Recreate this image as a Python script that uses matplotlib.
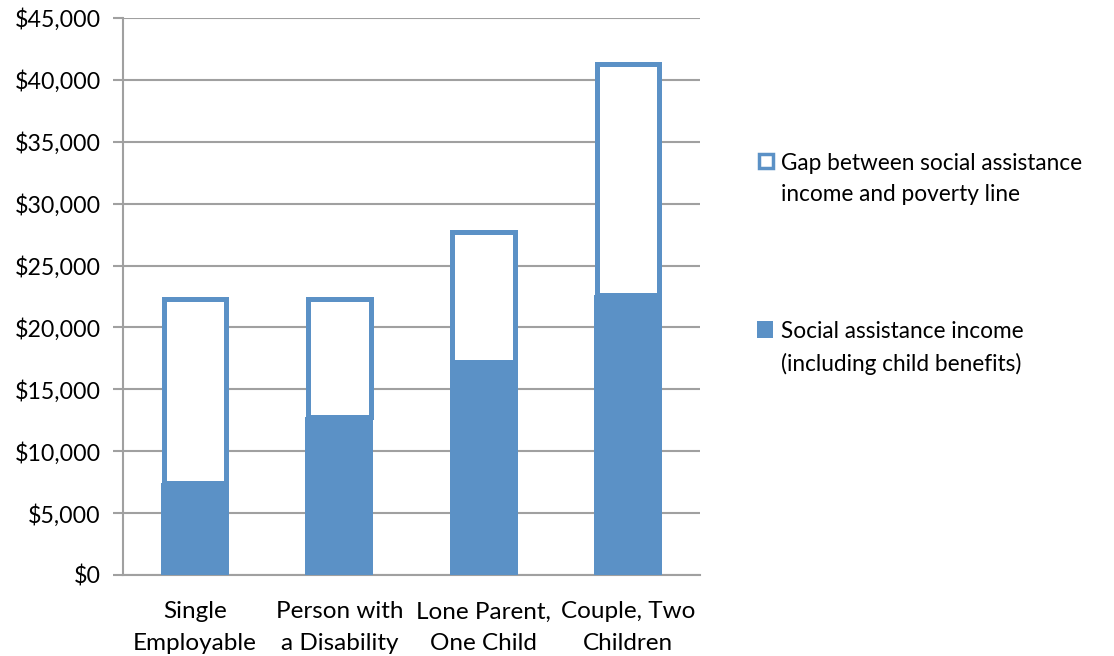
import matplotlib.pyplot as plt
import matplotlib.patches as mpatches
from matplotlib.ticker import FuncFormatter, MultipleLocator
import numpy as np

plt.rcParams['font.family'] = ['Lato', 'DejaVu Sans']

categories = ["Single\nEmployable", "Person with\na Disability",
              "Lone Parent,\nOne Child", "Couple, Two\nChildren"]
assistance = [7400, 12800, 17200, 22600]
gap = [14900, 9500, 10500, 18700]
legend_labels = ["Gap between social assistance\nincome and poverty line",
                 "Social assistance income\n(including child benefits)"]

blue = '#5b91c6'
grey = '#a0a0a0'

fig = plt.figure(figsize=(11.14, 6.56), dpi=100)
ax = fig.add_axes([0.1104, 0.1235, 0.518, 0.8491])

x = np.arange(len(categories))
ax.bar(x, assistance, 0.47, color=blue, zorder=3)
ax.bar(x, gap, 0.435, bottom=assistance, facecolor='white', edgecolor=blue,
       linewidth=3.6, zorder=3)

ax.set_xlim(-0.5, 3.5)
ax.set_ylim(0, 45000)
ax.yaxis.set_major_locator(MultipleLocator(5000))
ax.yaxis.set_major_formatter(FuncFormatter(lambda v, p: '${:,.0f}'.format(v)))
ax.grid(axis='y', color=grey, linewidth=1.5, zorder=0)
ax.set_axisbelow(True)

ax.set_xticks(x)
ax.set_xticklabels(categories, fontsize=17.5, linespacing=1.6)
ax.tick_params(axis='x', length=0, pad=19)
ax.tick_params(axis='y', length=7, width=1.5, color=grey, labelsize=16.7, pad=9)

for s in ['top', 'right']:
    ax.spines[s].set_visible(False)
for s in ['left', 'bottom']:
    ax.spines[s].set_color(grey)
    ax.spines[s].set_linewidth(1.5)

# legend, first line aligned with marker as in the original
ly = [0.753, 0.497]
for i, (lab, y) in enumerate(zip(legend_labels, ly)):
    if i == 0:
        h = mpatches.Rectangle((0.6815, y - 0.0095), 0.0125, 0.0215,
                               facecolor='white', edgecolor=blue, linewidth=2.5,
                               transform=fig.transFigure)
    else:
        h = mpatches.Rectangle((0.6795, y - 0.0115), 0.0145, 0.0245,
                               facecolor=blue, edgecolor='none',
                               transform=fig.transFigure)
    fig.patches.append(h)
    fig.text(0.7015, y + 0.0135, lab, fontsize=16.3, va='top', ha='left',
             linespacing=1.6)

fig.savefig('out.png', dpi=100)
